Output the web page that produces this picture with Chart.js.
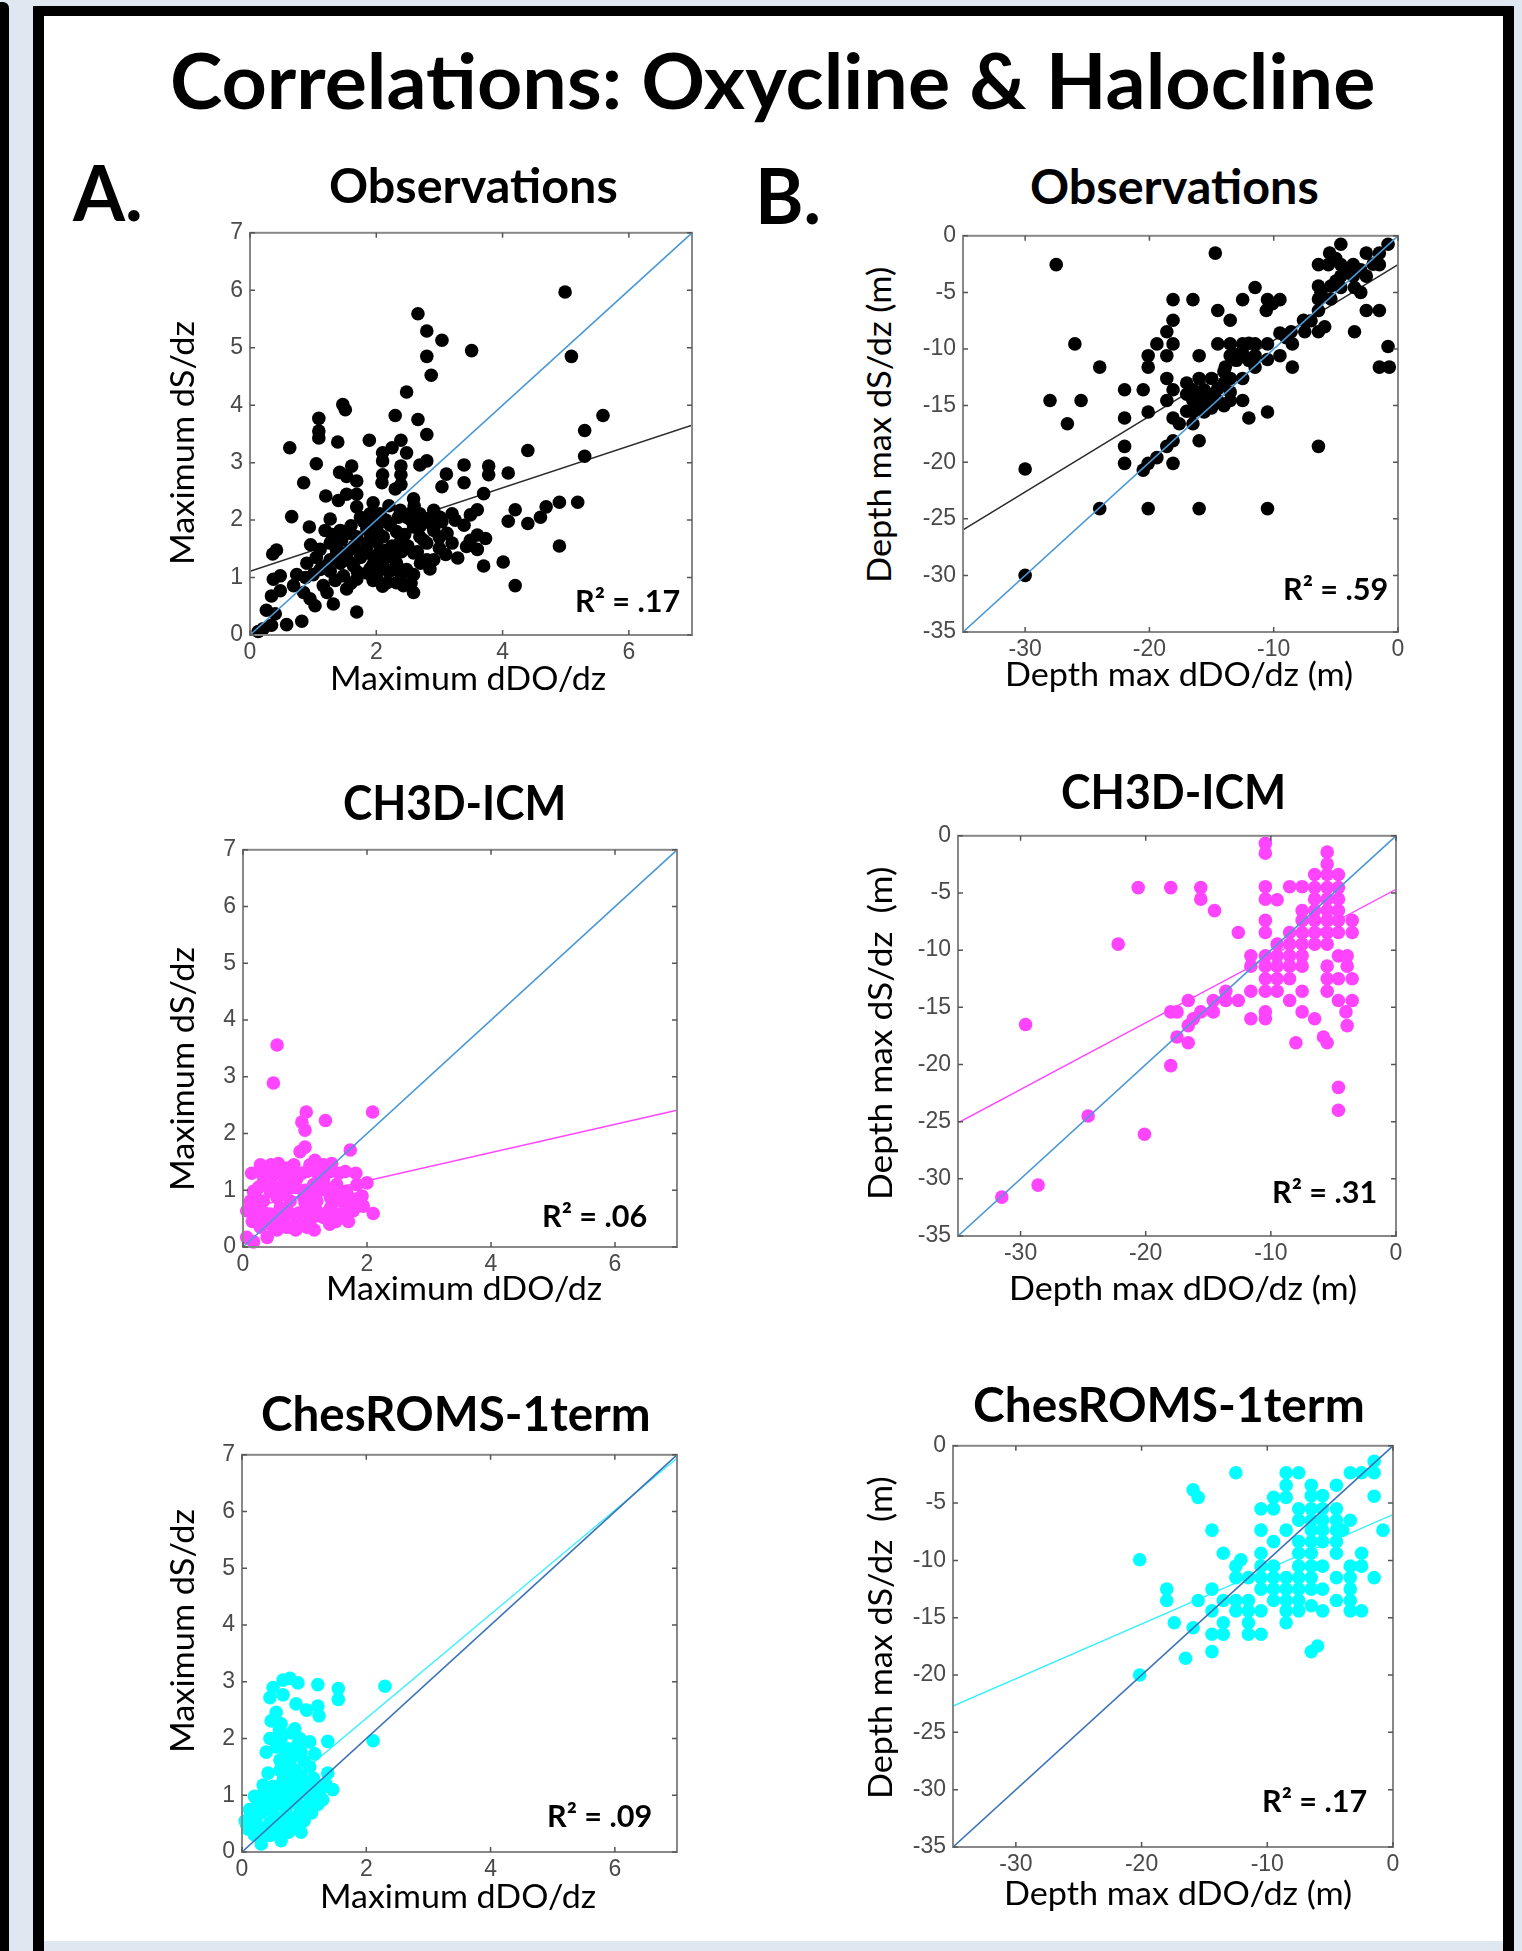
<!DOCTYPE html>
<html>
<head>
<meta charset="utf-8">
<script src="https://cdn.jsdelivr.net/npm/chart.js@4.4.1/dist/chart.umd.min.js"></script>
<style>
  html, body { margin: 0; padding: 0; }
  body { width: 1522px; height: 1951px; background: #dfe7f1; position: relative; overflow: hidden; font-family: Lato, "Open Sans", sans-serif; }
  #strip { position: absolute; left: 0; top: 2px; width: 9px; height: 1949px; background: #000; border-top-right-radius: 6px; }
  #frame { position: absolute; left: 33px; top: 6px; width: 1459px; height: 1935px; border: solid #000; border-width: 10px 11px 0 11px; background: #fff; }
  #foot { position: absolute; left: 44px; top: 1941px; width: 1459px; height: 10px; background: #dfe7f1; }
  canvas { position: absolute; }
  .t { position: absolute; white-space: pre; line-height: 1; color: #000; }
</style>
</head>
<body>
<div id="strip"></div>
<div id="frame"></div>
<div id="foot"></div>
<script>
// ---------- data ----------
const xTicksA = [0, 2, 4, 6];
const yTicksA = [0, 1, 2, 3, 4, 5, 6, 7];
const xTicksB = [-30, -20, -10, 0];
const yTicksB = [0, -5, -10, -15, -20, -25, -30, -35];
const rangeA = [0, 7];
const rangeB = [-35, 0];

const oneToOneA = [[0, 0], [7, 7]];
const oneToOneB = [[-35, -35], [0, 0]];

// regression lines, end points
const fitObsA = [[0, 1.11], [7, 3.65]];
const fitObsB = [[-35, -25.98], [0, -2.55]];
const fitCh3dA = [[0, 0.67], [7, 2.41]];
const fitCh3dB = [[-35, -25.1], [0, -4.68]];
const fitChesA = [[0, 0.52], [7, 6.94]];
const fitChesB = [[-35, -22.7], [0, -6.0]];

const r2Values = ['.17', '.59', '.06', '.31', '.09', '.17'];

// A. Observations: max dDO/dz vs max dS/dz
const obsA = [[4.99,5.97],[2.66,5.59],[2.80,5.29],[3.04,5.13],[3.51,4.95],[2.80,4.85],[5.09,4.85],[2.87,4.52],[2.48,4.23],
[1.47,4.01],[1.51,3.92],[2.30,3.82],[1.09,3.77],[2.66,3.75],[5.59,3.82],[1.09,3.55],[1.09,3.43],[2.80,3.49],[5.30,3.56],
[1.39,3.36],[1.89,3.39],[2.39,3.39],[2.25,3.26],[0.63,3.26],[2.10,3.17],[2.48,3.17],[4.40,3.21],[5.30,3.11],[2.10,3.03],
[2.80,3.03],[2.69,2.96],[1.05,2.98],[2.39,2.94],[1.61,2.94],[3.39,2.96],[3.78,2.94],[1.42,2.83],[2.39,2.79],[2.10,2.79],
[3.11,2.80],[3.78,2.79],[4.09,2.82],[1.53,2.76],[1.69,2.68],[0.85,2.65],[2.09,2.65],[2.39,2.62],[3.39,2.65],[3.04,2.58],
[2.30,2.54],[1.69,2.45],[1.53,2.45],[3.70,2.46],[1.20,2.42],[1.40,2.34],[2.59,2.37],[1.69,2.23],[0.66,2.06],[5.19,2.31],
[4.90,2.31],[4.69,2.23],[4.20,2.18],[4.60,2.05],[4.09,1.98],[4.40,1.94],[3.60,2.18],[3.49,2.09],[3.20,2.11],[2.91,2.17],
[2.69,2.11],[1.27,2.02],[0.94,1.88],[1.80,1.97],[1.90,2.11],[2.06,2.11],[2.38,2.17],[2.48,2.05],[2.80,2.02],[3.04,1.97],
[3.39,1.91],[1.19,1.82],[1.43,1.82],[1.58,1.77],[2.22,1.91],[2.32,1.80],[2.59,1.88],[2.91,1.82],[3.12,1.77],[3.60,1.74],
[3.73,1.68],[3.49,1.65],[0.96,1.57],[1.11,1.49],[0.42,1.48],[0.36,1.41],[1.27,1.60],[1.37,1.48],[1.58,1.48],[1.85,1.54],
[2.01,1.62],[2.17,1.48],[2.38,1.62],[2.75,1.65],[3.00,1.51],[3.43,1.54],[3.60,1.49],[4.90,1.55],[1.80,1.43],[1.95,1.37],
[2.27,1.40],[2.59,1.43],[2.80,1.31],[2.91,1.31],[3.29,1.34],[1.27,1.31],[1.43,1.25],[1.64,1.20],[1.95,1.23],[2.11,1.20],
[2.32,1.25],[2.48,1.14],[4.01,1.27],[3.70,1.20],[1.27,1.11],[1.48,1.03],[1.69,0.97],[1.85,1.08],[2.01,1.05],[2.17,0.91],
[2.32,0.91],[2.43,0.86],[2.59,1.05],[0.48,1.03],[0.37,0.97],[0.74,1.05],[0.88,1.00],[0.69,0.86],[1.16,0.86],[1.22,0.74],
[0.85,0.74],[0.34,0.68],[0.48,0.77],[0.95,0.63],[1.03,0.51],[1.32,0.54],[1.53,0.80],[2.59,0.74],[4.20,0.86],[0.26,0.43],
[0.40,0.37],[1.69,0.40],[0.82,0.24],[0.58,0.18],[0.34,0.17],[0.13,0.06],[0.21,0.11],[1.90,1.77],[2.01,1.88],[2.11,1.71],
[1.85,1.60],[2.59,2.17],[2.69,1.71],[2.80,1.60],[3.01,2.05],[1.69,1.71],[2.06,1.48],[2.27,1.14],[1.43,1.43],[1.11,1.14],
[1.60,1.90],[1.75,2.05],[1.95,1.95],[2.15,2.00],[2.35,2.05],[2.55,2.00],[2.70,1.90],[2.85,1.95],[1.65,1.55],[1.75,1.35],
[2.00,1.25],[2.15,1.35],[2.25,1.55],[2.40,1.45],[2.50,1.55],[2.65,1.45],[2.70,1.25],[2.40,1.05],[2.20,1.10],[1.90,1.15],
[1.70,1.10],[1.55,1.30],[1.35,1.35],[1.20,1.20],[1.35,0.95],[1.60,0.90],[1.95,0.95],[2.10,0.85],[2.55,0.90],[2.85,1.15],
[3.10,1.40],[3.20,1.60],[3.00,1.70],[2.95,1.95],[3.25,2.00],[1.85,1.85],[2.05,1.75],[2.45,1.75],[2.20,2.25],[1.95,2.30],
[2.60,2.25],[1.45,1.65],[1.30,1.75],[1.05,1.35],[0.90,1.25],[1.00,1.05]];

// B. Observations: depth of max dDO/dz vs depth of max dS/dz (m)
const obsB = [[-27.5,-2.55],[-14.7,-1.53],[-4.6,-0.75],[-0.8,-0.75],[-5.5,-1.53],[-2.55,-1.53],[-1.5,-1.53],[-6.4,-2.55],
[-5.6,-2.55],[-4.6,-2.55],[-3.6,-2.55],[-1.5,-2.55],[-4.6,-3.56],[-3.6,-3.56],[-2.55,-3.56],[-6.4,-4.43],[-5.4,-4.43],
[-4.6,-4.57],[-3.5,-4.57],[-11.5,-4.57],[-6.4,-5.58],[-5.4,-5.58],[-6.2,-5.0],[-18.1,-5.64],[-16.5,-5.64],[-12.5,-5.64],
[-10.5,-5.64],[-9.5,-5.64],[-10.1,-6.0],[-10.6,-6.6],[-14.5,-6.6],[-6.4,-6.6],[-2.55,-6.6],[-1.5,-6.6],[-18.1,-7.46],
[-13.5,-7.46],[-7.6,-7.46],[-6.4,-8.48],[-5.9,-8.04],[-3.5,-8.48],[-7.5,-8.48],[-8.6,-8.48],[-18.6,-8.48],[-9.5,-8.6],
[-19.4,-9.55],[-18.1,-9.55],[-26.0,-9.55],[-14.5,-9.55],[-13.5,-9.55],[-12.5,-9.55],[-11.5,-9.55],[-10.5,-9.55],[-8.5,-9.55],
[-0.8,-9.78],[-20.1,-10.59],[-18.6,-10.59],[-16.0,-10.59],[-13.5,-10.59],[-12.5,-10.36],[-11.5,-10.59],[-10.5,-10.93],
[-9.5,-10.59],[-24.0,-11.6],[-20.1,-11.6],[-13.9,-11.6],[-11.5,-11.6],[-8.5,-11.6],[-1.5,-11.6],[-0.7,-11.6],[-18.6,-12.6],
[-16.0,-12.6],[-15.0,-12.6],[-13.5,-12.6],[-12.5,-12.6],[-22.0,-13.6],[-20.5,-13.6],[-18.1,-13.6],[-16.5,-13.6],[-15.6,-13.6],
[-14.5,-13.5],[-13.5,-13.8],[-28.0,-14.55],[-25.5,-14.55],[-18.6,-14.55],[-16.5,-14.55],[-15.6,-14.55],[-14.5,-14.55],
[-13.5,-14.55],[-12.5,-14.55],[-20.1,-15.56],[-16.5,-15.56],[-15.6,-15.56],[-10.5,-15.56],[-26.6,-16.6],[-22.0,-16.1],
[-18.1,-16.1],[-17.6,-16.6],[-16.5,-16.6],[-12.0,-16.1],[-18.1,-18.1],[-18.6,-18.6],[-16.0,-18.1],[-6.4,-18.6],[-22.0,-18.6],
[-22.0,-20.1],[-19.4,-19.6],[-20.1,-20.1],[-20.5,-20.7],[-18.1,-20.1],[-30.0,-20.6],[-24.0,-24.1],[-20.1,-24.1],[-16.0,-24.1],
[-10.5,-24.1],[-30.0,-30.0],
[-17.0,-14.0],[-16.0,-14.0],[-15.0,-14.0],[-16.0,-15.0],[-17.0,-15.5],[-15.0,-15.2],[-14.0,-13.0],[-14.0,-12.0],[-13.0,-11.0],
[-12.0,-11.0],[-17.0,-13.0],[-14.0,-15.0],[-13.0,-10.5],[-12.0,-9.5],[-5.0,-4.0],[-4.0,-3.0],[-3.0,-3.0],[-5.0,-2.0],
[-2.0,-2.5],[-3.0,-5.0],[-9.0,-9.0],[-7.0,-7.5]];

// A. CH3D-ICM
const ch3dA = [[0.55,3.56],[0.49,2.89],[1.02,2.38],[2.09,2.38],[1.33,2.23],[0.95,2.20],[1.00,2.06],[1.00,1.76],[0.92,1.68],
[1.73,1.71],[1.16,1.53],[0.57,1.47],[0.28,1.45],[1.43,1.47],[0.82,1.45],[0.14,1.30],[1.65,1.33],[1.82,1.30],[1.03,1.33],
[2.00,1.13],[0.17,0.98],[1.92,0.90],[1.94,0.72],[0.06,0.64],[2.10,0.59],[1.51,0.58],[0.06,0.17],[0.39,0.17],[0.17,0.09],
[0.33,1.16],[0.49,1.27],[0.65,1.10],[0.87,1.21],[1.14,1.10],[1.30,1.21],[1.51,1.10],[1.67,0.98],[1.41,0.87],[1.19,0.81],
[0.98,0.87],[0.76,0.81],[0.55,0.87],[0.33,0.81],[0.23,0.52],[0.44,0.58],[0.65,0.46],[0.87,0.52],[1.08,0.46],[1.30,0.52],
[0.49,0.35],[0.28,0.35],[0.92,0.40],[1.19,0.64],[1.67,0.69],[1.78,0.64],[1.56,0.81],[1.84,1.10],[0.76,1.04],[0.44,0.98],
[0.60,0.69],[1.08,0.75],[1.41,0.69],[0.12,0.81],[1.41,1.33],[1.08,1.45],[0.39,1.39],[0.71,1.39],[0.76,0.35],[1.03,0.35],
[1.30,1.10],
[0.20,0.70],[0.35,0.60],[0.50,0.50],[0.60,0.60],[0.75,0.60],[0.90,0.60],[1.05,0.60],[1.20,0.55],[1.35,0.60],[1.50,0.45],
[1.60,0.55],[0.25,1.05],[0.40,1.10],[0.55,1.05],[0.70,1.20],[0.85,1.05],[1.00,1.00],[1.15,0.95],[1.25,1.00],[1.45,0.95],
[1.60,0.90],[1.75,0.85],[0.30,1.30],[0.45,1.45],[0.60,1.30],[0.80,1.30],[0.95,1.30],[1.20,1.30],[1.30,1.45],[1.55,1.30],
[0.35,0.45],[0.55,0.30],[0.70,0.35],[0.85,0.30],[1.15,0.30],[1.40,0.40],[0.15,0.45],[1.70,0.45],[1.85,0.85],[1.00,0.78],
[0.65,0.95],[0.20,0.90]];

// B. CH3D-ICM
const ch3dB = [[-10.44,-0.66],[-10.44,-1.52],[-5.5,-1.43],[-5.5,-2.47],[-20.6,-4.53],[-18.0,-4.53],[-15.6,-4.53],[-15.6,-5.54],
[-14.5,-6.54],[-10.44,-4.45],[-10.44,-5.54],[-9.5,-5.59],[-8.5,-4.45],[-7.5,-4.45],[-6.5,-3.39],[-5.5,-3.39],[-4.6,-3.39],
[-6.5,-4.53],[-5.5,-4.53],[-4.6,-4.53],[-6.5,-5.54],[-5.5,-5.54],[-4.6,-5.54],[-7.5,-6.54],[-6.5,-6.54],[-5.5,-6.54],
[-4.6,-6.54],[-10.44,-7.4],[-7.5,-7.4],[-6.5,-7.4],[-5.5,-7.4],[-4.6,-7.4],[-3.5,-7.4],[-12.6,-8.46],[-10.44,-8.46],
[-8.5,-8.46],[-7.5,-8.46],[-6.5,-8.46],[-5.5,-8.46],[-4.6,-8.46],[-3.5,-8.46],[-22.2,-9.47],[-9.5,-9.47],[-8.5,-9.47],
[-7.5,-9.47],[-6.5,-9.47],[-5.5,-9.47],[-11.6,-10.5],[-10.44,-10.5],[-9.5,-10.5],[-8.5,-10.5],[-7.5,-10.5],[-4.6,-10.5],
[-3.9,-10.5],[-11.6,-11.4],[-10.44,-11.4],[-9.5,-11.4],[-8.5,-11.4],[-7.5,-11.4],[-5.5,-11.4],[-3.9,-11.4],[-10.44,-12.5],
[-9.5,-12.5],[-8.5,-12.5],[-5.5,-12.5],[-4.6,-12.5],[-3.5,-12.5],[-11.6,-13.6],[-10.44,-13.6],[-9.5,-13.6],[-7.5,-13.6],
[-5.5,-13.6],[-13.6,-13.6],[-8.5,-14.4],[-4.6,-14.4],[-3.5,-14.4],[-16.6,-14.4],[-14.6,-14.4],[-12.6,-14.4],[-13.6,-14.4],
[-18.0,-15.4],[-17.5,-15.4],[-15.6,-15.4],[-14.6,-15.4],[-16.2,-16.0],[-16.6,-16.6],[-11.6,-16.0],[-10.44,-16.0],
[-10.44,-15.4],[-7.5,-15.4],[-6.5,-16.0],[-4.0,-15.4],[-3.9,-16.6],[-29.6,-16.5],[-17.5,-17.6],[-16.6,-18.1],[-8.0,-18.1],
[-5.8,-17.6],[-5.5,-18.1],[-18.0,-20.1],[-4.6,-22.0],[-4.6,-24.0],[-24.6,-24.5],[-20.1,-26.1],[-28.6,-30.55],[-31.5,-31.6]];

// A. ChesROMS-1term
const chesA = [[2.30,2.92],[1.22,2.95],[1.55,2.88],[1.55,2.69],[0.77,3.06],[0.66,3.03],[0.90,2.98],[0.50,2.90],[0.66,2.77],
[0.45,2.72],[0.87,2.61],[1.04,2.50],[1.22,2.57],[1.24,2.40],[0.55,2.46],[0.47,2.31],[0.63,2.26],[0.85,2.17],[0.45,2.00],
[0.63,2.00],[0.93,2.00],[1.09,1.94],[1.38,1.95],[2.11,1.96],[0.39,1.76],[0.74,1.82],[0.95,1.76],[1.17,1.73],[0.61,1.62],
[0.77,1.56],[0.61,1.44],[0.87,1.44],[1.09,1.50],[1.38,1.39],[1.46,1.10],[0.34,1.18],[0.50,1.16],[0.77,1.27],[1.04,1.16],
[0.20,0.98],[0.39,0.92],[0.61,1.04],[0.87,0.98],[1.22,0.84],[0.12,0.75],[0.31,0.69],[0.50,0.75],[0.71,0.75],[0.93,0.69],
[1.12,0.69],[0.07,0.49],[0.23,0.52],[0.45,0.52],[0.66,0.46],[0.87,0.46],[0.28,0.35],[0.45,0.29],[0.63,0.20],[0.31,0.14],
[0.55,0.87],[0.77,0.87],[0.93,1.27],[1.20,1.16],[1.30,0.92],[0.66,1.27],[0.42,1.39],[1.09,0.98],
[0.15,0.60],[0.25,0.85],[0.40,0.75],[0.55,0.60],[0.70,0.55],[0.85,0.60],[1.00,0.55],[1.05,0.80],[0.90,0.85],[0.70,0.95],
[0.50,0.95],[0.35,1.05],[0.25,0.45],[0.40,0.40],[0.55,0.35],[0.75,0.35],[0.95,0.35],[0.20,0.30],[0.55,1.10],[0.70,1.10],
[0.85,1.15],[0.95,1.05],[1.15,0.85],[1.25,1.05],[0.65,1.40],[0.80,1.35],[0.95,1.35],[0.70,1.70],[0.85,1.70],[0.55,1.85],
[0.80,2.10],[0.60,2.15],[1.00,1.60],[0.90,1.90],[0.05,0.55],[0.10,0.40],[1.35,1.20],[1.15,1.30]];

// B. ChesROMS-1term
const chesB = [[-12.5,-2.35],[-8.5,-2.35],[-7.5,-2.35],[-3.4,-2.35],[-2.5,-2.35],[-1.5,-2.35],[-1.5,-1.35],[-8.5,-3.44],
[-6.5,-3.44],[-4.5,-3.44],[-15.9,-3.84],[-15.5,-4.5],[-9.5,-4.5],[-8.5,-4.5],[-6.5,-4.35],[-5.6,-4.35],[-1.5,-4.4],
[-10.5,-5.5],[-9.5,-5.5],[-7.5,-5.5],[-6.5,-5.5],[-5.6,-5.5],[-4.5,-5.5],[-7.5,-6.5],[-6.5,-6.5],[-5.6,-6.5],[-4.5,-6.5],
[-3.4,-6.5],[-14.4,-7.36],[-10.5,-7.36],[-8.5,-7.36],[-6.5,-7.36],[-5.6,-7.36],[-4.5,-7.36],[-4.0,-7.36],[-0.8,-7.36],
[-9.5,-8.36],[-7.5,-8.36],[-6.5,-8.36],[-5.6,-8.36],[-4.5,-8.36],[-13.5,-9.37],[-10.5,-9.37],[-7.5,-9.37],[-6.5,-9.37],
[-4.5,-9.37],[-2.5,-9.37],[-20.15,-9.94],[-12.1,-9.94],[-12.5,-10.5],[-10.5,-10.5],[-9.5,-10.5],[-7.5,-10.5],[-6.5,-10.5],
[-5.6,-10.5],[-3.4,-10.5],[-2.5,-10.5],[-12.5,-11.5],[-11.5,-11.5],[-10.5,-11.5],[-9.5,-11.5],[-8.5,-11.5],[-7.5,-11.5],
[-6.5,-11.5],[-4.5,-11.5],[-3.4,-11.5],[-1.5,-11.5],[-18.0,-12.5],[-14.4,-12.5],[-10.5,-12.5],[-9.5,-12.5],[-8.5,-12.5],
[-7.5,-12.5],[-6.5,-12.5],[-5.6,-12.5],[-3.4,-12.5],[-18.0,-13.5],[-15.5,-13.5],[-13.5,-13.5],[-12.5,-13.5],[-11.5,-13.5],
[-9.5,-13.5],[-8.5,-13.5],[-7.5,-13.5],[-4.5,-13.5],[-3.4,-13.5],[-12.5,-14.4],[-11.5,-14.4],[-10.5,-14.4],[-8.5,-14.4],
[-7.5,-14.4],[-6.5,-13.95],[-5.6,-14.4],[-3.4,-14.4],[-2.5,-14.4],[-14.4,-14.4],[-17.4,-15.44],[-13.5,-15.44],[-11.5,-15.44],
[-8.5,-15.44],[-15.9,-15.87],[-14.4,-16.44],[-13.5,-16.44],[-11.5,-16.44],[-10.5,-16.44],[-6.5,-17.96],[-6.0,-17.47],
[-14.4,-17.96],[-16.5,-18.53],[-20.15,-20.0]];

// ---------- layout ----------
const BLUE = '#4a98d6', BLUE_DARK = '#3c72b8';
const panels = [
  { pts: obsA,  fit: fitObsA,  diag: oneToOneA, kind: 'A', dot: '#000000', fitCol: '#2a2a2a', diagCol: BLUE,      box: [250, 226, 692, 635],  r2: r2Values[0], r2At: [680, 612] },
  { pts: obsB,  fit: fitObsB,  diag: oneToOneB, kind: 'B', dot: '#000000', fitCol: '#2a2a2a', diagCol: BLUE,      box: [963, 229, 1398, 632], r2: r2Values[1], r2At: [1388, 600] },
  { pts: ch3dA, fit: fitCh3dA, diag: oneToOneA, kind: 'A', dot: '#ff44ff', fitCol: '#ff44ff', diagCol: BLUE,      box: [243, 843, 677, 1247], r2: r2Values[2], r2At: [647, 1227] },
  { pts: ch3dB, fit: fitCh3dB, diag: oneToOneB, kind: 'B', dot: '#ff44ff', fitCol: '#ff44ff', diagCol: BLUE,      box: [958, 829, 1396, 1236], r2: r2Values[3], r2At: [1377, 1203] },
  { pts: chesA, fit: fitChesA, diag: oneToOneA, kind: 'A', dot: '#00ffff', fitCol: '#33f0ff', diagCol: BLUE_DARK, box: [242, 1448, 677, 1852], r2: r2Values[4], r2At: [652, 1827] },
  { pts: chesB, fit: fitChesB, diag: oneToOneB, kind: 'B', dot: '#00ffff', fitCol: '#33f0ff', diagCol: BLUE_DARK, box: [953, 1439, 1393, 1847], r2: r2Values[5], r2At: [1367, 1812] }
];

// matlab-like box with inward ticks on all four sides
const boxPlugin = {
  id: 'mbox',
  afterDraw(chart) {
    const { ctx, chartArea: a, scales: { x, y } } = chart;
    ctx.save();
    ctx.strokeStyle = '#888';
    ctx.lineWidth = 2;
    ctx.strokeRect(a.left, a.top, a.right - a.left, a.bottom - a.top);
    ctx.strokeStyle = '#555';
    ctx.lineWidth = 1.5;
    const tl = 5;
    ctx.beginPath();
    x.ticks.forEach(t => {
      const px = x.getPixelForValue(t.value);
      ctx.moveTo(px, a.bottom); ctx.lineTo(px, a.bottom - tl);
      ctx.moveTo(px, a.top); ctx.lineTo(px, a.top + tl);
    });
    y.ticks.forEach(t => {
      const py = y.getPixelForValue(t.value);
      ctx.moveTo(a.left, py); ctx.lineTo(a.left + tl, py);
      ctx.moveTo(a.right, py); ctx.lineTo(a.right - tl, py);
    });
    ctx.stroke();
    ctx.restore();
  }
};

const toXY = arr => arr.map(p => ({ x: p[0], y: p[1] }));
const tickFont = { family: '"Liberation Sans", Arial, sans-serif', size: 23 };

function makePanel(p) {
  const padL = 62, padT = 14, padR = 14, padB = 42;
  const [L, T, R, B] = p.box;
  const w = R - L + padL + padR, h = B - T + padT + padB;
  const c = document.createElement('canvas');
  c.width = w; c.height = h;
  c.style.left = (L - padL) + 'px';
  c.style.top = (T - padT) + 'px';
  c.style.width = w + 'px';
  c.style.height = h + 'px';
  document.body.appendChild(c);

  const xr = p.kind === 'A' ? rangeA : rangeB;
  const xt = p.kind === 'A' ? xTicksA : xTicksB;
  const yt = p.kind === 'A' ? yTicksA : yTicksB;

  new Chart(c, {
    type: 'scatter',
    data: {
      datasets: [
        { data: toXY(p.diag), showLine: true, pointRadius: 0, borderColor: p.diagCol, borderWidth: 1.6, order: 0 },
        { data: toXY(p.pts), pointRadius: 6.8, pointHoverRadius: 6.8, backgroundColor: p.dot, borderColor: p.dot, borderWidth: 0, order: 1, clip: false },
        { data: toXY(p.fit), showLine: true, pointRadius: 0, borderColor: p.fitCol, borderWidth: 1.4, order: 2 }
      ]
    },
    options: {
      responsive: false,
      animation: false,
      devicePixelRatio: 1,
      events: [],
      layout: { padding: { top: padT, right: padR, left: 0, bottom: 0 } },
      plugins: { legend: { display: false }, tooltip: { enabled: false } },
      scales: {
        x: {
          type: 'linear', min: xr[0], max: xr[1],
          afterBuildTicks: s => { s.ticks = xt.map(v => ({ value: v })); },
          afterFit: s => { s.height = padB; },
          grid: { display: false, drawTicks: false },
          border: { display: false },
          ticks: { font: tickFont, color: '#4a4a4a', padding: 4, maxRotation: 0 }
        },
        y: {
          type: 'linear', min: xr[0], max: xr[1],
          afterBuildTicks: s => { s.ticks = yt.map(v => ({ value: v })); },
          afterFit: s => { s.width = padL; },
          grid: { display: false, drawTicks: false },
          border: { display: false },
          ticks: { font: tickFont, color: '#4a4a4a', padding: 7 }
        }
      }
    },
    plugins: [boxPlugin]
  });
}

panels.forEach(makePanel);

// ---------- text ----------
function addText(str, o) {
  const d = document.createElement('div');
  d.className = 't';
  d.style.fontSize = o.fs + 'px';
  d.style.fontWeight = o.bold ? 700 : 400;
  d.textContent = str;
  const mark = document.createElement('span');
  mark.style.cssText = 'display:inline-block;width:0;height:0;vertical-align:baseline';
  d.appendChild(mark);
  document.body.appendChild(d);
  const w = d.offsetWidth, b = mark.offsetTop;
  const s = o.w ? o.w / w : 1;
  d.style.transformOrigin = '0px ' + b + 'px';
  if (o.rot) {
    d.style.left = o.x + 'px';
    d.style.top = (o.y + w * s / 2 - b) + 'px';
    d.style.transform = 'rotate(-90deg) scaleX(' + s + ')';
  } else {
    const left = o.cx != null ? o.cx - w * s / 2 : (o.right != null ? o.right - w * s : o.left);
    d.style.left = left + 'px';
    d.style.top = (o.y - b) + 'px';
    d.style.transform = 'scaleX(' + s + ')';
  }
}

addText('Correlations: Oxycline & Halocline', { cx: 772, y: 109, fs: 77, bold: true, w: 1205 });
addText('A.', { left: 73, y: 221, fs: 76, bold: true, w: 70 });
addText('B.', { left: 755, y: 224, fs: 76, bold: true, w: 66 });

const panelTitles = [
  ['Observations', 473, 203, 289], ['Observations', 1174, 204, 289],
  ['CH3D-ICM', 454, 820, 223], ['CH3D-ICM', 1173, 809, 225],
  ['ChesROMS-1term', 456, 1431, 390], ['ChesROMS-1term', 1169, 1422, 392]
];
panelTitles.forEach(t => addText(t[0], { cx: t[1], y: t[2], fs: 47, bold: true, w: t[3] }));

const yTitles = [
  ['Maximum dS/dz', 194, 443, 244], ['Maximum dS/dz', 194, 1069, 244], ['Maximum dS/dz', 194, 1631, 244],
  ['Depth max dS/dz (m)', 891, 425, 316], ['Depth max dS/dz  (m)', 892, 1033, 334], ['Depth max dS/dz  (m)', 892, 1637, 323]
];
yTitles.forEach(t => addText(t[0], { rot: true, x: t[1], y: t[2], fs: 33, w: t[3] }));

const xTitles = [
  ['Maximum dDO/dz', 468, 690, 276], ['Maximum dDO/dz', 464, 1300, 276], ['Maximum dDO/dz', 458, 1908, 276],
  ['Depth max dDO/dz (m)', 1179, 686, 348], ['Depth max dDO/dz (m)', 1183, 1300, 348], ['Depth max dDO/dz (m)', 1178, 1905, 348]
];
xTitles.forEach(t => addText(t[0], { cx: t[1], y: t[2], fs: 33, w: t[3] }));

panels.forEach(p => addText('R\u00b2 = ' + p.r2, { right: p.r2At[0], y: p.r2At[1], fs: 30, bold: true, w: 105 }));
</script>
</body>
</html>
